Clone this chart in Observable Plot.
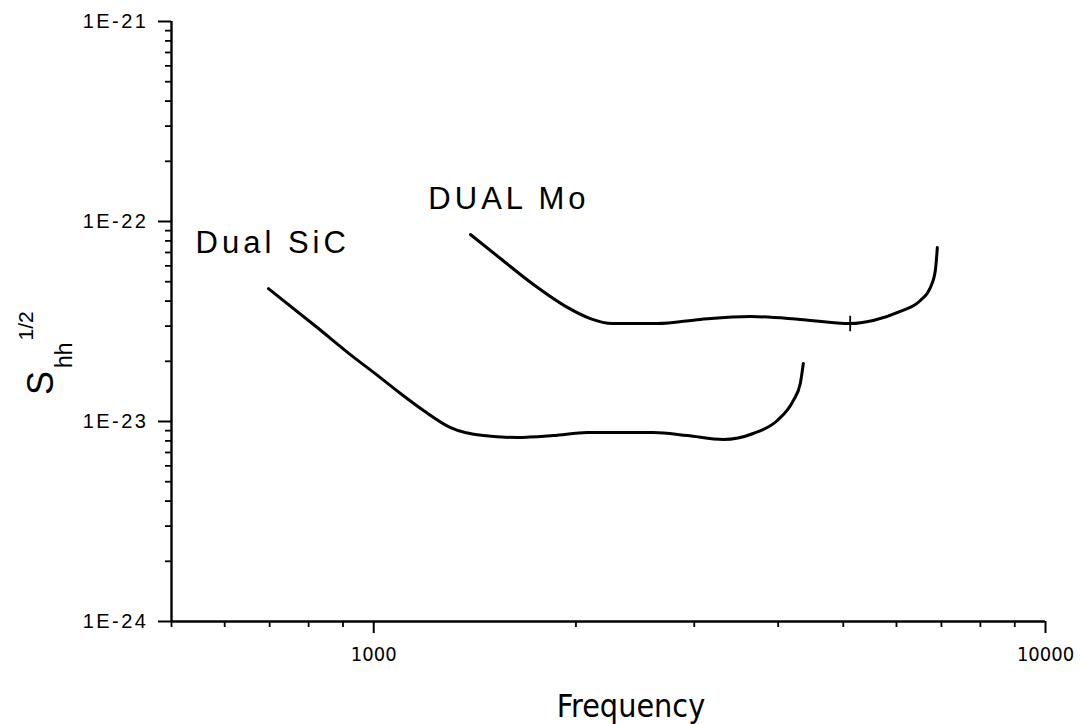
<!DOCTYPE html>
<html>
<head>
<meta charset="utf-8">
<script src="https://cdn.jsdelivr.net/npm/d3@7"></script>
<script src="https://cdn.jsdelivr.net/npm/@observablehq/plot@0.6"></script>
<style>
  html, body { margin: 0; padding: 0; background: #fff; }
  #chart svg { display: block; }
  g[aria-label="y-axis tick label"] text { letter-spacing: 2.5px; font-size: 20px !important; }
  g[aria-label="x-axis tick label"] text { font-size: 20px !important; font-family: "Liberation Sans Narrow", "Arial Narrow", "DejaVu Sans Condensed", "Liberation Sans", sans-serif; }
  g[aria-label="text"] text { letter-spacing: 4px; font-size: 31px !important; }
</style>
</head>
<body>
<div id="chart"></div>
<script>
// ---- data ----
const xDomain = [500, 10000];
const yDomain = [1e-24, 1e-21];

const xMajor = [1000, 10000];
const xTickLabels = ["1000", "10000"];
const xMinor = [500, 600, 700, 800, 900, 2000, 3000, 4000, 5000, 6000, 7000, 8000, 9000];

const yMajor = [1e-24, 1e-23, 1e-22, 1e-21];
const yTickLabels = ["1E-24", "1E-23", "1E-22", "1E-21"];
const yMinor = [2e-24, 3e-24, 4e-24, 5e-24, 6e-24, 7e-24, 8e-24, 9e-24,
                2e-23, 3e-23, 4e-23, 5e-23, 6e-23, 7e-23, 8e-23, 9e-23,
                2e-22, 3e-22, 4e-22, 5e-22, 6e-22, 7e-22, 8e-22, 9e-22];

const freqSiC = [697, 824, 923, 1013, 1096, 1186, 1301, 1456, 1636, 1851, 2080, 2607, 2930, 3314, 3672, 3988, 4214, 4315, 4360];
const shhSiC  = [4.62e-23, 2.95e-23, 2.16e-23, 1.70e-23, 1.38e-23, 1.135e-23, 9.33e-24, 8.51e-24, 8.32e-24, 8.51e-24, 8.81e-24, 8.81e-24, 8.51e-24, 8.13e-24, 8.71e-24, 1.012e-23, 1.274e-23, 1.549e-23, 1.95e-23];

const freqMo = [1393, 1544, 1729, 1942, 2101, 2265, 2644, 3063, 3635, 4315, 5120, 5540, 6077, 6511, 6740, 6855, 6902];
const shhMo  = [8.61e-23, 6.53e-23, 4.84e-23, 3.72e-23, 3.27e-23, 3.09e-23, 3.09e-23, 3.24e-23, 3.35e-23, 3.24e-23, 3.09e-23, 3.20e-23, 3.55e-23, 4.03e-23, 4.68e-23, 5.69e-23, 7.41e-23];

const markerFreq = [5120];
const markerShh = [3.09e-23];

const labelText = ["Dual SiC", "DUAL Mo"];
const labelFreq = [543, 1206];
const labelShh = [6.92e-23, 1.161e-22];

const xTitle = "Frequency";

// ---- build tables ----
const sic = freqSiC.map((f, i) => ({f, s: shhSiC[i]}));
const mo = freqMo.map((f, i) => ({f, s: shhMo[i]}));
const markers = markerFreq.map((f, i) => ({f, s: markerShh[i]}));
const labels = labelText.map((t, i) => ({t, f: labelFreq[i], s: labelShh[i]}));

const plot = Plot.plot({
  width: 1080,
  height: 724,
  marginLeft: 171,
  marginRight: 35,
  marginTop: 21,
  marginBottom: 103,
  style: { fontFamily: "'Liberation Sans', Arial, sans-serif", background: "#fff", color: "#000" },
  x: { type: "log", domain: xDomain, axis: null },
  y: { type: "log", domain: yDomain, axis: null },
  marks: [
    Plot.axisX({ ticks: xMinor, tickSize: 6, tickFormat: () => "", label: null, strokeWidth: 1.8 }),
    Plot.axisX({ ticks: xMajor, tickSize: 12, tickPadding: 13, strokeWidth: 2,
      tickFormat: d => xTickLabels[xMajor.indexOf(d)], label: null }),
    Plot.axisY({ ticks: yMinor, tickSize: 6, tickFormat: () => "", label: null, strokeWidth: 1.8 }),
    Plot.axisY({ ticks: yMajor, tickSize: 13, tickPadding: 10, strokeWidth: 2,
      tickFormat: d => yTickLabels[yMajor.indexOf(d)], label: null }),
    Plot.ruleX([xDomain[0]], { y1: yDomain[0], y2: yDomain[1], strokeWidth: 2.4 }),
    Plot.ruleY([yDomain[0]], { x1: xDomain[0], x2: xDomain[1], strokeWidth: 2.4 }),
    Plot.line(sic, { x: "f", y: "s", stroke: "#000", strokeWidth: 3, curve: "monotone-x" }),
    Plot.line(mo, { x: "f", y: "s", stroke: "#000", strokeWidth: 3, curve: "monotone-x" }),
    Plot.dot(markers, { x: "f", y: "s", symbol: "plus", r: 5, stroke: "#000", strokeWidth: 1.8 }),
    Plot.text(labels, { x: "f", y: "s", text: "t", textAnchor: "start", lineAnchor: "bottom", fill: "#000" })
  ]
});

const svg = d3.select(plot);
// x-axis title
svg.append("text")
  .attr("x", 631).attr("y", 717)
  .attr("text-anchor", "middle")
  .attr("font-family", "'Liberation Sans Narrow', 'Arial Narrow', 'DejaVu Sans Condensed', 'Liberation Sans', sans-serif")
  .attr("font-size", 32)
  .attr("fill", "#000")
  .text(xTitle);
// y-axis title: S_hh^{1/2}
const yt = svg.append("text")
  .attr("transform", "translate(53,395) rotate(-90)")
  .attr("text-anchor", "start")
  .attr("font-family", "'Liberation Sans', Arial, sans-serif")
  .attr("fill", "#000");
yt.append("tspan").attr("font-size", 36).text("S");
yt.append("tspan").attr("font-size", 23).attr("dx", 3).attr("dy", 19).text("hh");
yt.append("tspan").attr("font-size", 21).attr("dx", 2).attr("dy", -39).text("1/2");

document.getElementById("chart").appendChild(plot);
</script>
</body>
</html>
